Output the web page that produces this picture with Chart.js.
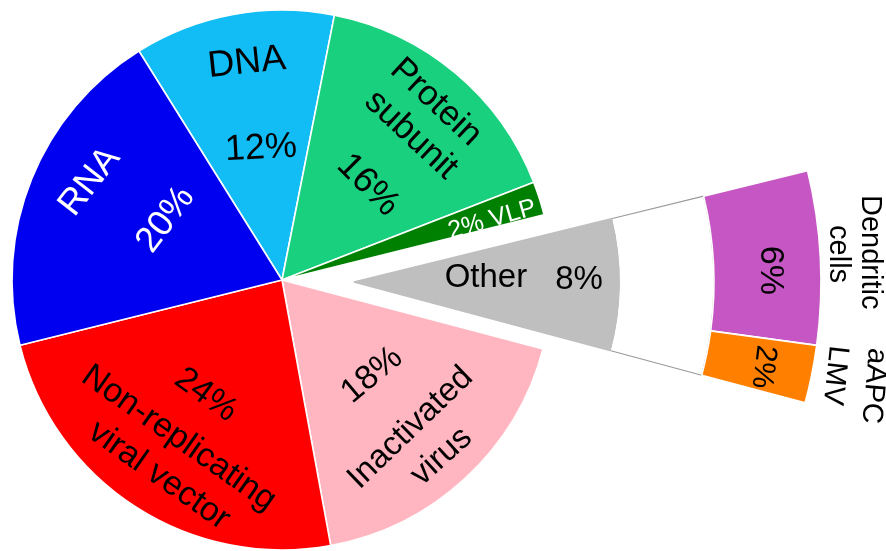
<!DOCTYPE html>
<html><head><meta charset="utf-8">
<script src="https://cdn.jsdelivr.net/npm/chart.js@4.4.1/dist/chart.umd.min.js"></script>
<style>
html,body{margin:0;padding:0;width:886px;height:551px;overflow:hidden;background:#fff;}
#wrap{position:relative;width:886px;height:551px;overflow:hidden;}
#main{position:absolute;left:0;top:0;width:564px;height:560px;}
#other{position:absolute;left:-206px;top:-278px;width:1120px;height:1120px;}
</style></head><body>
<div id="wrap"><canvas id="main" width="564" height="560"></canvas><canvas id="other" width="1120" height="1120"></canvas></div>
<script>
// ---- data ----
const mainCategories = ['DNA', 'Protein subunit', 'VLP', 'Other', 'Inactivated virus', 'Non-replicating viral vector', 'RNA'];
const mainValues = [12, 16, 2, 8, 18, 24, 20];
const otherCategories = ['Dendritic cells', 'aAPC LMV'];
const otherValues = [6, 2];
const otherShare = mainValues[mainCategories.indexOf('Other')];
const restShare = mainValues.reduce((a, b) => a + b, 0) - otherShare;

// ---- styles ----
const mainColors = ['#12bdf6', '#19d07f', '#008000', 'rgba(0,0,0,0)', '#ffb6c1', '#ff0000', '#0000f0'];
const subColors = ['#c656c4', '#ff8000'];
const grayColor = '#bfbfbf';
const FONT = '"Liberation Sans", Arial, Helvetica, sans-serif';

// label layout: ds, idx, da (deg offset from slice mid), rf (fraction of slice outer radius), rot (deg), size, color
const mainLabels = [
  {t:'DNA', ds:0, idx:0, da:1.2, rf:0.815, rot:-6, s:37, c:'#000'},
  {t:'12%', ds:0, idx:0, da:1.3, rf:0.493, rot:-3, s:36, c:'#000'},
  {t:'Protein', ds:0, idx:1, da:0.9, rf:0.87, rot:43, s:35, c:'#000'},
  {t:'subunit', ds:0, idx:1, da:1.6, rf:0.719, rot:43, s:35, c:'#000'},
  {t:'16%', ds:0, idx:1, da:2.2, rf:0.474, rot:45, s:36, c:'#000'},
  {t:'2% VLP', ds:0, idx:2, da:1.6, rf:0.81, rot:-16, s:25, c:'#fff'},
  {t:'RNA', ds:0, idx:6, da:5.1, rf:0.80, rot:-52, s:36, c:'#fff'},
  {t:'20%', ds:0, idx:6, da:5.4, rf:0.485, rot:-53, s:36, c:'#fff'},
  {t:'24%', ds:0, idx:5, da:0.7, rf:0.511, rot:36, s:34, c:'#000'},
  {t:'Non-replicating', ds:0, idx:5, da:0.3, rf:0.70, rot:35, s:34, c:'#000'},
  {t:'viral vector', ds:0, idx:5, da:-0.7, rf:0.856, rot:35, s:34, c:'#000'},
  {t:'18%', ds:0, idx:4, da:-0.6, rf:0.485, rot:-40, s:34, c:'#000'},
  {t:'Inactivated', ds:0, idx:4, da:1.8, rf:0.726, rot:-44, s:33, c:'#000'},
  {t:'virus', ds:0, idx:4, da:0.7, rf:0.881, rot:-42, s:33, c:'#000'}
];
const otherLabels = [
  {t:'Other', ds:2, idx:0, da:-2.2, rf:0.498, rot:0, s:33, c:'#000'},
  {t:'8%', ds:2, idx:0, da:-1.1, rf:0.849, rot:0, s:33, c:'#000'},
  {t:'6%', ds:0, idx:0, da:1.4, rf:0.891, rot:90, s:34, c:'#000'},
  {t:'Dendritic', ds:0, idx:0, da:-0.3, rf:1.107, rot:90, s:29, c:'#000'},
  {t:'cells', ds:0, idx:0, da:-0.3, rf:1.039, rot:90, s:29, c:'#000'},
  {t:'2%', ds:0, idx:1, da:0.3, rf:0.895, rot:97, s:30, c:'#000'},
  {t:'aAPC', ds:0, idx:1, da:-0.1, rf:1.135, rot:95, s:29, c:'#000'},
  {t:'LMV', ds:0, idx:1, da:-0.4, rf:1.049, rot:96, s:29, c:'#000'}
];

function sliceLabels(labels) {
  return {
    id: 'sliceLabels',
    afterDatasetsDraw(chart) {
      const ctx = chart.ctx;
      labels.forEach(l => {
        const el = chart.getDatasetMeta(l.ds).data[l.idx];
        const p = el.getProps(['x', 'y', 'startAngle', 'endAngle', 'outerRadius'], true);
        const a = (p.startAngle + p.endAngle) / 2 + l.da * Math.PI / 180;
        const r = l.rf * p.outerRadius;
        ctx.save();
        ctx.translate(p.x + r * Math.cos(a), p.y + r * Math.sin(a));
        ctx.rotate(l.rot * Math.PI / 180);
        ctx.font = l.s + 'px ' + FONT;
        ctx.fillStyle = l.c;
        ctx.textAlign = 'center';
        ctx.textBaseline = 'middle';
        ctx.fillText(l.t, 0, 0);
        ctx.restore();
      });
    }
  };
}

const commonOpts = {
  responsive: false,
  animation: false,
  events: [],
  layout: {padding: 0},
  plugins: {legend: {display: false}, tooltip: {enabled: false}}
};

new Chart(document.getElementById('main'), {
  type: 'pie',
  data: {
    labels: mainCategories,
    datasets: [{
      data: mainValues,
      backgroundColor: mainColors,
      borderColor: mainCategories.map(c => c === 'Other' ? 'rgba(0,0,0,0)' : '#ffffff'),
      borderWidth: 1.6
    }]
  },
  options: Object.assign({}, commonOpts, {rotation: -32, radius: 270}),
  plugins: [sliceLabels(mainLabels)]
});

const tr = 'rgba(0,0,0,0)';
new Chart(document.getElementById('other'), {
  type: 'pie',
  data: {
    labels: otherCategories.concat(['rest']),
    datasets: [
      { // outer ring: breakdown of Other
        data: otherValues.concat([restShare]),
        backgroundColor: subColors.concat([tr]),
        borderColor: ['#ffffff', '#ffffff', tr],
        borderWidth: [1.6, 1.6, 0],
        weight: 107, order: 1
      },
      { // connecting band
        data: [otherShare, restShare],
        backgroundColor: ['#ffffff', tr],
        borderColor: ['#9a9a9a', tr],
        borderWidth: [1.1, 0],
        weight: 95, order: 3
      },
      { // Other wedge
        data: [otherShare, restShare],
        backgroundColor: [grayColor, tr],
        borderColor: [grayColor, tr],
        borderWidth: [1.6, 0],
        weight: 265, order: 2
      }
    ]
  },
  options: Object.assign({}, commonOpts, {rotation: 76.2, radius: 467}),
  plugins: [sliceLabels(otherLabels)]
});
</script>
</body></html>
